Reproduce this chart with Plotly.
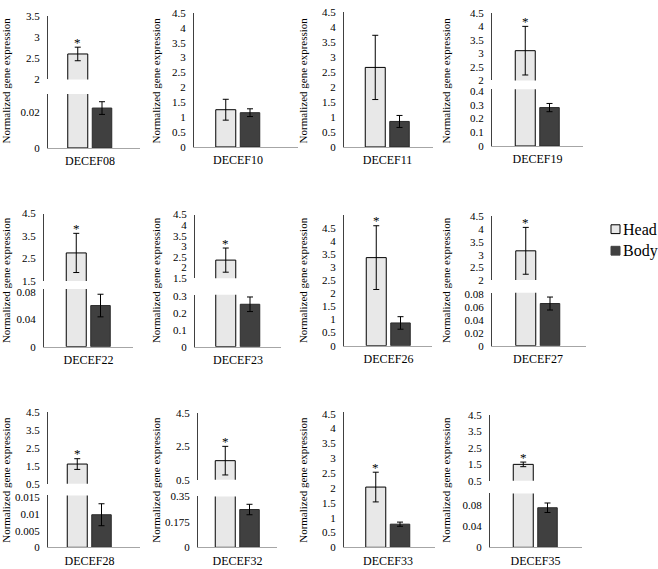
import plotly.graph_objects as go

W, H = 658, 569

# ---------------- data ----------------
genes = ["DECEF08", "DECEF10", "DECEF11", "DECEF19",
         "DECEF22", "DECEF23", "DECEF26", "DECEF27",
         "DECEF28", "DECEF32", "DECEF33", "DECEF35"]
head = [2.6, 1.25, 2.65, 3.1, 2.75, 2.35, 3.37, 3.15, 1.6, 1.65, 2.03, 1.5]
head_err = [0.16, 0.35, 1.07, 0.9, 0.87, 0.57, 1.22, 0.92, 0.3, 0.86, 0.5, 0.14]
body = [0.022, 1.15, 0.85, 0.28, 0.06, 0.25, 0.87, 0.065, 0.0098, 0.26, 0.78, 0.075]
body_err = [0.0035, 0.13, 0.2, 0.03, 0.0165, 0.043, 0.24, 0.01, 0.0033, 0.036, 0.07, 0.009]
significant = [True, False, False, True, True, True, True, True, True, True, True, True]

full_ticks = ["0", "0.5", "1", "1.5", "2", "2.5", "3", "3.5", "4", "4.5"]
# lower (or only) y-axis segment tick labels
ticks_lower = [
    ["0", "0.02"], full_ticks, full_ticks, ["0", "0.1", "0.2", "0.3", "0.4"],
    ["0", "0.04", "0.08"], ["0", "0.1", "0.2", "0.3"], full_ticks,
    ["0", "0.02", "0.04", "0.06", "0.08"],
    ["0", "0.005", "0.01", "0.015"], ["0", "0.175", "0.35"], full_ticks,
    ["0", "0.04", "0.08"],
]
# upper segment tick labels of broken axes (None = unbroken axis)
ticks_upper = [
    ["2", "2.5", "3", "3.5"], None, None, ["2", "2.5", "3", "3.5", "4", "4.5"],
    ["1.5", "2.5", "3.5", "4.5"], ["1.5", "2", "2.5", "3", "3.5", "4", "4.5"], None,
    ["2", "2.5", "3", "3.5", "4", "4.5"],
    ["0.5", "1.5", "2.5", "3.5", "4.5"], ["0.5", "2.5", "4.5"], None,
    ["0.5", "1.5", "2.5", "3.5", "4.5"],
]
y_title = "Normalized gene expression"
series_names = ["Head", "Body"]

# ---------------- layout geometry (pixels) ----------------
# x0, x1, bar-group centre, lower segment (top_px, bottom_px, max), upper segment (top_px, bottom_px, min, max)
geom = [
    (48, 140, 90, (90, 145, 0.0297), (10, 75, 2, 3.5)),
    (194, 298, 238, (7, 144, 4.5), None),
    (344, 433, 387.5, (6, 144, 4.5), None),
    (492, 583, 537.5, (85, 143, 0.414), (7, 76, 2, 4.5)),
    (44, 133, 88.5, (289, 348, 0.0843), (212, 281, 1.5, 4.5)),
    (195, 281, 238, (295, 348, 0.306), (213, 278, 1.5, 4.5)),
    (344, 432, 388.5, (213, 347, 5.02), None),
    (492, 586, 538, (293, 347, 0.0815), (215, 280, 2, 4.5)),
    (48, 140, 89.5, (500, 553, 0.0156), (415, 488, 0.5, 4.5)),
    (198, 277, 237.5, (501, 553, 0.35), (416, 484, 0.5, 4.5)),
    (344, 435, 388, (415, 553, 4.55), None),
    (490, 582, 535.5, (498, 553, 0.102), (418, 485, 0.5, 4.5)),
]
U = 100.0  # px per category unit
HEAD_OFF, HEAD_W = -22.25 / U, 20 / U
BODY_OFF, BODY_W = 2.25 / U, 19.5 / U

HEAD_COLOR, BODY_COLOR = "#e8e8e8", "#404040"
FONT = "Liberation Serif"


def px_x(p):
    return p / W


def px_y(p):
    return 1 - p / H


fig = go.Figure()
layout = dict(
    width=W, height=H, margin=dict(l=0, r=0, t=0, b=0),
    paper_bgcolor="white", plot_bgcolor="white",
    barmode="overlay", showlegend=False,
    font=dict(family=FONT, color="#000000"),
)
annotations = []
shapes = []

yid = 0
for i, g in enumerate(genes):
    x0, x1, cx, low, up = geom[i]
    xname = "x" if i == 0 else f"x{i+1}"
    xkey = "xaxis" if i == 0 else f"xaxis{i+1}"

    yid += 1
    ylow = "y" if yid == 1 else f"y{yid}"
    ylow_key = "yaxis" if yid == 1 else f"yaxis{yid}"
    yup = yup_key = None
    if up is not None:
        yid += 1
        yup = f"y{yid}"
        yup_key = f"yaxis{yid}"

    layout[xkey] = dict(
        domain=[px_x(x0), px_x(x1)], anchor=ylow, type="category",
        range=[-(cx - x0) / U, (x1 - cx) / U],
        showline=True, linecolor="#a6a6a6", linewidth=1,
        ticks="outside", ticklen=2, tickcolor="rgba(0,0,0,0)",
        showgrid=False, zeroline=False,
        tickfont=dict(family=FONT, size=12, color="#000000"),
        fixedrange=True,
    )
    ytl = ticks_lower[i]
    layout[ylow_key] = dict(
        domain=[px_y(low[1]), px_y(low[0])], anchor=xname,
        range=[0, low[2]], tickvals=[float(t) for t in ytl], ticktext=ytl,
        showline=True, linecolor="#404040", linewidth=1,
        ticks="outside", ticklen=5, tickcolor="rgba(0,0,0,0)",
        showgrid=False, zeroline=False,
        tickfont=dict(family=FONT, size=11, color="#000000"),
        fixedrange=True,
    )
    if up is not None:
        ytu = ticks_upper[i]
        layout[yup_key] = dict(
            domain=[px_y(up[1]), px_y(up[0])], anchor=xname,
            range=[up[2], up[3]], tickvals=[float(t) for t in ytu], ticktext=ytu,
            showline=True, linecolor="#404040", linewidth=1,
            ticks="outside", ticklen=5, tickcolor="rgba(0,0,0,0)",
            showgrid=False, zeroline=False,
            tickfont=dict(family=FONT, size=11, color="#000000"),
            fixedrange=True,
        )

    err_style = dict(type="data", color="#000000", thickness=1, width=3, visible=True)
    # lower (or only) segment
    fig.add_trace(go.Bar(
        x=[g], y=[head[i]], name=series_names[0], xaxis=xname, yaxis=ylow,
        offset=HEAD_OFF, width=HEAD_W,
        marker=dict(color=HEAD_COLOR, line=dict(color="#000000", width=1)),
        error_y=dict(err_style, array=[head_err[i]]) if up is None else None,
    ))
    fig.add_trace(go.Bar(
        x=[g], y=[body[i]], name=series_names[1], xaxis=xname, yaxis=ylow,
        offset=BODY_OFF, width=BODY_W,
        marker=dict(color=BODY_COLOR, line=dict(color="#2a2a2a", width=1)),
        error_y=dict(err_style, array=[body_err[i]]),
    ))
    star_axis = ylow
    if up is not None:
        fig.add_trace(go.Bar(
            x=[g], y=[head[i]], name=series_names[0], xaxis=xname, yaxis=yup,
            offset=HEAD_OFF, width=HEAD_W, base=0,
            marker=dict(color=HEAD_COLOR, line=dict(color="#000000", width=1)),
            error_y=dict(err_style, array=[head_err[i]]),
        ))
        star_axis = yup
    if significant[i]:
        annotations.append(dict(
            x=g, y=head[i] + head_err[i], xref=xname, yref=star_axis,
            xshift=(HEAD_OFF + HEAD_W / 2) * U,
            text="*", showarrow=False, yanchor="middle", yshift=5,
            font=dict(family=FONT, size=13, color="#000000"),
        ))

# y-axis titles
col_x = [6, 156, 303, 446]
row_y = [76, 280, 484]
for r in range(3):
    for c in range(4):
        annotations.append(dict(
            x=px_x(col_x[c]), y=px_y(row_y[r]), xref="paper", yref="paper",
            text=y_title, textangle=-90, showarrow=False,
            xanchor="center", yanchor="middle",
            font=dict(family=FONT, size=11, color="#000000"),
        ))

# legend (drawn manually)
leg = [(series_names[0], HEAD_COLOR, "#000000", 228), (series_names[1], BODY_COLOR, BODY_COLOR, 250)]
for name, fill, line, cy in leg:
    shapes.append(dict(
        type="rect", xref="paper", yref="paper",
        x0=px_x(611), x1=px_x(620), y0=px_y(cy + 4.5), y1=px_y(cy - 4.5),
        fillcolor=fill, line=dict(color=line, width=1),
    ))
    annotations.append(dict(
        x=px_x(621), y=px_y(cy), xref="paper", yref="paper",
        text=name, showarrow=False, xanchor="left", yanchor="middle",
        font=dict(family=FONT, size=16, color="#000000"),
    ))

layout["annotations"] = annotations
layout["shapes"] = shapes
fig.update_layout(**layout)

fig.write_html("out.html", config={"displayModeBar": False},
               post_script="document.body.style.margin='0px';")
